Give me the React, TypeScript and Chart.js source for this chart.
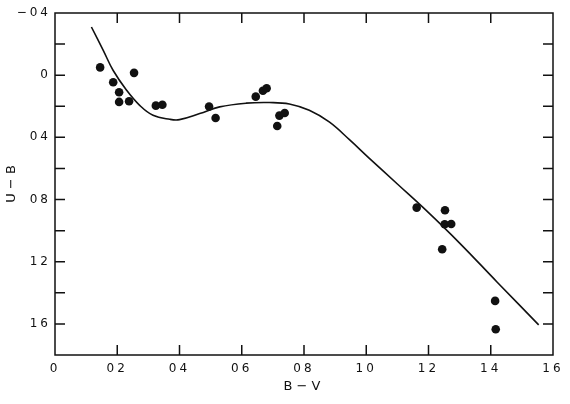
import React, { useEffect, useRef } from 'react';
import { Chart, registerables } from 'chart.js';

Chart.register(...registerables);

// Observed stars: B-V colour vs U-B colour
const bvObserved = [0.145, 0.187, 0.206, 0.206, 0.238, 0.254, 0.324, 0.345, 0.495, 0.516, 0.645, 0.668, 0.68, 0.714, 0.721, 0.738, 1.162, 1.253, 1.252, 1.273, 1.244, 1.414, 1.416];
const ubObserved = [-0.05, 0.045, 0.11, 0.172, 0.168, -0.015, 0.196, 0.19, 0.202, 0.275, 0.138, 0.1, 0.084, 0.327, 0.26, 0.243, 0.852, 0.869, 0.959, 0.957, 1.12, 1.452, 1.634];

// Standard (main-sequence) relation curve
const bvCurve = [0.117, 0.155, 0.187, 0.23, 0.272, 0.315, 0.369, 0.40, 0.465, 0.529, 0.614, 0.689, 0.753, 0.817, 0.881, 0.946, 1.01, 1.10, 1.19, 1.30, 1.42, 1.554];
const ubCurve = [-0.31, -0.16, -0.03, 0.097, 0.194, 0.258, 0.284, 0.286, 0.247, 0.204, 0.18, 0.176, 0.185, 0.226, 0.301, 0.415, 0.535, 0.70, 0.865, 1.08, 1.33, 1.606];

// Axes
const xTickValues = [0, 0.2, 0.4, 0.6, 0.8, 1.0, 1.2, 1.4, 1.6];
const xTickLabels = ['0', '02', '04', '06', '08', '10', '12', '14', '16'];
const yTickValues = [-0.4, 0, 0.4, 0.8, 1.2, 1.6];
const yTickLabels = ['−04', '0', '04', '08', '12', '16'];
const xMarkValues = [0.2, 0.4, 0.6, 0.8, 1.0, 1.2, 1.4];
const yMarkValues = [-0.2, 0, 0.2, 0.4, 0.6, 0.8, 1.0, 1.2, 1.4, 1.6];
const xTitle = 'B − V';
const yTitle = 'U − B';

const INK = '#111';
const FONT = '"DejaVu Sans", Verdana, sans-serif';

const labelFor = (values: number[], labels: string[], v: number) => {
  const i = values.findIndex((t) => Math.abs(t - v) < 1e-6);
  return i >= 0 ? labels[i] : '';
};

const framePlugin = {
  id: 'frameTicks',
  beforeDraw(chart: any) {
    chart.ctx.letterSpacing = '3px';
  },
  afterDraw(chart: any) {
    const { ctx, chartArea } = chart;
    const { left, right, top, bottom } = chartArea;
    const xs = chart.scales.x;
    const ys = chart.scales.y;
    const len = 10;
    ctx.save();
    ctx.letterSpacing = '0px';
    ctx.strokeStyle = INK;
    ctx.lineWidth = 1.5;
    ctx.strokeRect(left, top, right - left, bottom - top);
    ctx.beginPath();
    xMarkValues.forEach((v) => {
      const px = xs.getPixelForValue(v);
      ctx.moveTo(px, bottom);
      ctx.lineTo(px, bottom - len);
      ctx.moveTo(px, top);
      ctx.lineTo(px, top + len);
    });
    yMarkValues.forEach((v) => {
      const py = ys.getPixelForValue(v);
      ctx.moveTo(left, py);
      ctx.lineTo(left + len, py);
      ctx.moveTo(right, py);
      ctx.lineTo(right - len, py);
    });
    ctx.stroke();

    ctx.fillStyle = INK;
    ctx.font = `13px ${FONT}`;
    ctx.textAlign = 'center';
    ctx.textBaseline = 'middle';
    ctx.fillText(xTitle, (left + right) / 2 - 2, bottom + 32);
    ctx.translate(12, (top + bottom) / 2);
    ctx.rotate(-Math.PI / 2);
    ctx.fillText(yTitle, 0, 0);
    ctx.restore();
  },
};

export default function App() {
  const canvasRef = useRef<HTMLCanvasElement | null>(null);

  useEffect(() => {
    if (!canvasRef.current) return;
    const chart = new Chart(canvasRef.current, {
      type: 'scatter',
      data: {
        datasets: [
          {
            label: 'curve',
            data: bvCurve.map((x, i) => ({ x, y: ubCurve[i] })),
            showLine: true,
            borderColor: INK,
            borderWidth: 1.6,
            pointRadius: 0,
            tension: 0.4,
            fill: false,
          } as any,
          {
            label: 'stars',
            data: bvObserved.map((x, i) => ({ x, y: ubObserved[i] })),
            backgroundColor: INK,
            borderColor: INK,
            borderWidth: 0,
            pointRadius: 4.3,
          },
        ],
      },
      options: {
        animation: false,
        responsive: false,
        layout: { padding: { top: 13, right: 17, left: 0, bottom: 0 } },
        plugins: { legend: { display: false }, tooltip: { enabled: false } },
        scales: {
          x: {
            type: 'linear',
            min: 0,
            max: 1.6,
            afterBuildTicks: (s: any) => {
              s.ticks = xTickValues.map((value) => ({ value }));
            },
            afterFit: (s: any) => {
              s.height = 49;
            },
            grid: { display: false, drawTicks: false },
            border: { display: false },
            ticks: {
              autoSkip: false,
              maxRotation: 0,
              padding: 7,
              color: INK,
              font: { family: FONT, size: 12 },
              callback: (v: any) => labelFor(xTickValues, xTickLabels, Number(v)),
            },
          },
          y: {
            type: 'linear',
            reverse: true,
            min: -0.4,
            max: 1.8,
            afterBuildTicks: (s: any) => {
              s.ticks = yTickValues.map((value) => ({ value }));
            },
            afterFit: (s: any) => {
              s.width = 55;
            },
            grid: { display: false, drawTicks: false },
            border: { display: false },
            ticks: {
              autoSkip: false,
              padding: 4,
              color: INK,
              font: { family: FONT, size: 12 },
              callback: (v: any) => labelFor(yTickValues, yTickLabels, Number(v)),
            },
          },
        },
      },
      plugins: [framePlugin],
    });
    return () => chart.destroy();
  }, []);

  return (
    <div style={{ position: 'fixed', left: 0, top: 0, width: 570, height: 404, background: '#fff' }}>
      <canvas ref={canvasRef} width={570} height={404} style={{ display: 'block' }} />
    </div>
  );
}
